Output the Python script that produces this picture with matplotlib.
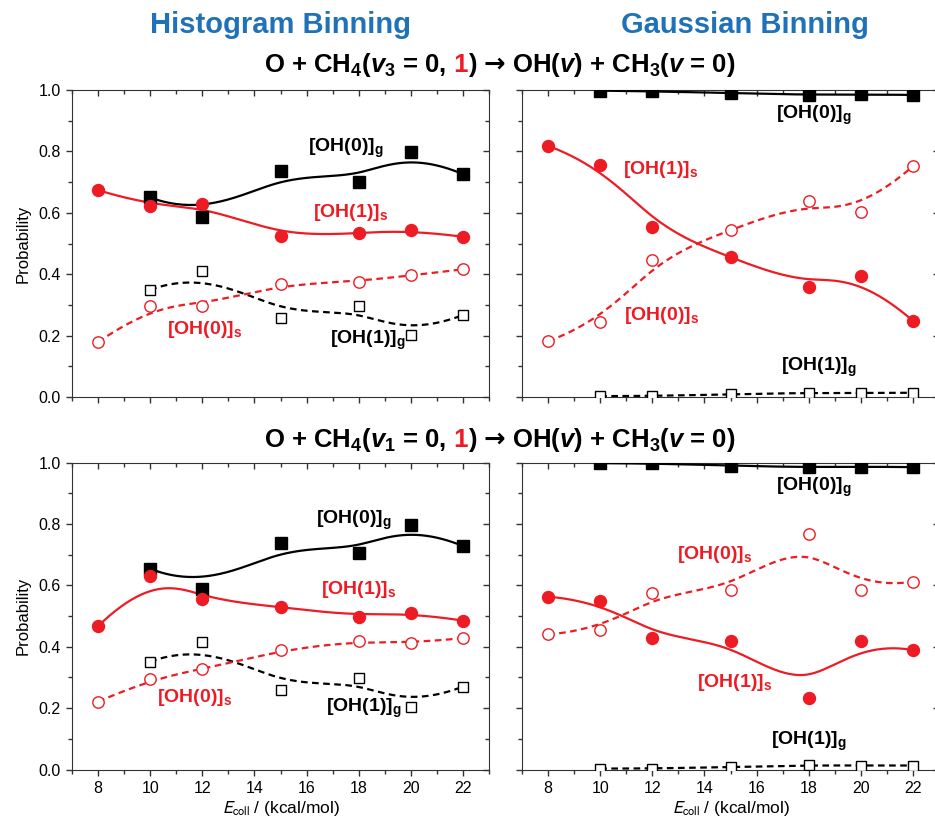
import numpy as np
import matplotlib
matplotlib.use("Agg")
import matplotlib.pyplot as plt
from matplotlib.ticker import MultipleLocator, NullFormatter
from matplotlib.offsetbox import TextArea, HPacker, AnchoredOffsetbox

RED = "#ed1c24"
BLUE = "#1f72b8"
FONT = ["Liberation Sans", "DejaVu Sans"]

plt.rcParams["font.family"] = FONT
plt.rcParams["mathtext.fontset"] = "custom"
plt.rcParams["mathtext.rm"] = "Liberation Sans:bold"
plt.rcParams["mathtext.it"] = "Liberation Sans:italic:bold"
plt.rcParams["mathtext.bf"] = "Liberation Sans:bold"

# collision energies (kcal/mol)
E_s = [8, 10, 12, 15, 18, 20, 22]
E_g = [10, 12, 15, 18, 20, 22]

# histogram binning, v3 = 1
h3_oh0_g = [0.650, 0.587, 0.737, 0.701, 0.798, 0.726]
h3_oh1_g = [0.349, 0.412, 0.256, 0.296, 0.202, 0.267]
h3_oh1_s = [0.674, 0.622, 0.628, 0.524, 0.533, 0.544, 0.522]
h3_oh0_s = [0.179, 0.295, 0.298, 0.367, 0.376, 0.396, 0.416]

# gaussian binning, v3 = 1
g3_oh0_g = [0.998, 0.996, 0.990, 0.984, 0.986, 0.984]
g3_oh1_g = [0.003, 0.003, 0.009, 0.014, 0.012, 0.014]
g3_oh1_s = [0.818, 0.756, 0.555, 0.455, 0.359, 0.395, 0.248]
g3_oh0_s = [0.182, 0.243, 0.446, 0.544, 0.638, 0.604, 0.752]

# histogram binning, v1 = 1
h1_oh0_g = [0.654, 0.587, 0.737, 0.704, 0.797, 0.728]
h1_oh1_g = [0.351, 0.414, 0.259, 0.299, 0.205, 0.270]
h1_oh1_s = [0.467, 0.631, 0.554, 0.530, 0.498, 0.511, 0.485]
h1_oh0_s = [0.221, 0.294, 0.326, 0.388, 0.420, 0.411, 0.428]

# gaussian binning, v1 = 1
g1_oh0_g = [0.998, 0.997, 0.990, 0.984, 0.987, 0.985]
g1_oh1_g = [0.003, 0.003, 0.008, 0.014, 0.013, 0.013]
g1_oh1_s = [0.563, 0.549, 0.428, 0.420, 0.232, 0.419, 0.389]
g1_oh0_s = [0.440, 0.454, 0.574, 0.585, 0.766, 0.585, 0.612]


def bspline(x, y, n=300, k=3):
    # clamped uniform B-spline using the data points as control points
    P = np.column_stack([x, y]).astype(float)
    m = len(P)
    kn = np.r_[np.zeros(k), np.arange(m - k + 1), np.full(k, m - k)].astype(float)
    t = np.linspace(0, m - k, n)
    N = np.zeros((n, len(kn) - 1))
    for i in range(len(kn) - 1):
        N[:, i] = (kn[i] <= t) & (t < kn[i + 1])
    last = np.where(kn[:-1] < kn[1:])[0][-1]
    N[-1, :] = 0
    N[-1, last] = 1
    for d in range(1, k + 1):
        Nn = np.zeros((n, len(kn) - 1 - d))
        for i in range(len(kn) - 1 - d):
            a = kn[i + d] - kn[i]
            b = kn[i + d + 1] - kn[i + 1]
            term = np.zeros(n)
            if a > 0:
                term += (t - kn[i]) / a * N[:, i]
            if b > 0:
                term += (kn[i + d + 1] - t) / b * N[:, i + 1]
            Nn[:, i] = term
        N = Nn
    C = N @ P
    return C[:, 0], C[:, 1]


def set_ticks(owner, axis, name, major, minor, direction, **kw):
    axis.set_major_locator(MultipleLocator(major))
    axis.set_minor_locator(MultipleLocator(minor))
    owner.tick_params(axis=name, which="both", direction=direction,
                      color="#333333", width=1, **kw)
    owner.tick_params(axis=name, which="major", length=4.5)
    owner.tick_params(axis=name, which="minor", length=2.6)


def panel(ax, oh0g, oh1g, oh1s, oh0s, labels, ylab, xlab):
    lw = 1.6
    dash = (0, (3, 2))
    ax.plot(*bspline(E_g, oh0g), color="black", lw=lw, zorder=2)
    ax.plot(*bspline(E_g, oh1g), color="black", lw=lw, ls=dash, zorder=2)
    ax.plot(*bspline(E_s, oh1s), color=RED, lw=lw, zorder=2)
    ax.plot(*bspline(E_s, oh0s), color=RED, lw=lw, ls=dash, zorder=2)
    ax.plot(E_g, oh0g, "s", color="black", ms=8.4, zorder=3)
    ax.plot(E_g, oh1g, "s", mfc="white", mec="black", mew=1, ms=7.6, zorder=3)
    ax.plot(E_s, oh1s, "o", color=RED, ms=8.6, zorder=3)
    ax.plot(E_s, oh0s, "o", mfc="white", mec=RED, mew=1, ms=8.2, zorder=3)

    for txt, sub, col, x, y in labels:
        ax.text(x, y, txt + r"$_\mathrm{" + sub + "}$", color=col, fontsize=14,
                fontweight="bold", ha="center", va="center")

    ax.set_xlim(7, 23)
    ax.set_ylim(0, 1)
    set_ticks(ax, ax.xaxis, "x", 2, 1, "out", top=False, labelsize=11.5)
    set_ticks(ax, ax.yaxis, "y", 0.2, 0.1, "out", right=False, labelsize=11.5)
    for s in ax.spines.values():
        s.set_color("#333333")
    ax.spines["top"].set_visible(False)
    ax.spines["right"].set_visible(False)

    # top and right ticks point inwards
    top = ax.secondary_xaxis("top")
    set_ticks(top, top.xaxis, "x", 2, 1, "in", labeltop=False)
    top.xaxis.set_major_formatter(NullFormatter())
    right = ax.secondary_yaxis("right")
    set_ticks(right, right.yaxis, "y", 0.2, 0.1, "in", labelright=False)
    right.yaxis.set_major_formatter(NullFormatter())
    for sec in (top, right):
        for s in sec.spines.values():
            s.set_color("#333333")

    if ylab:
        ax.set_yticks([0, 0.2, 0.4, 0.6, 0.8, 1.0])
        ax.set_yticklabels(["0.0", "0.2", "0.4", "0.6", "0.8", "1.0"])
        ax.set_ylabel("Probability", fontsize=12)
        ax.yaxis.set_label_coords(-0.10, 0.5)
    else:
        ax.yaxis.set_major_formatter(NullFormatter())
    if xlab:
        ax.set_xlabel(r"$E_\mathrm{coll}$ / (kcal/mol)", fontsize=12.5,
                      math_fontfamily="stixsans")
        ax.xaxis.set_label_coords(0.5, -0.095)
    else:
        ax.xaxis.set_major_formatter(NullFormatter())


def reaction(fig, y, mode):
    props = dict(fontsize=18.5, fontweight="bold", family=FONT, color="black")
    parts = [TextArea(r"O + CH$_4$($v_" + mode + r"$ = 0,", textprops=props),
             TextArea(" 1", textprops={**props, "color": RED}),
             TextArea(") ", textprops=props),
             TextArea("\u2192", textprops={**props, "family": ["DejaVu Sans"]}),
             TextArea(r" OH($v$) + CH$_3$($v$ = 0)", textprops=props)]
    box = HPacker(children=parts, align="baseline", pad=0, sep=0)
    ab = AnchoredOffsetbox(loc="center", child=box, pad=0, borderpad=0, frameon=False,
                           bbox_to_anchor=(0.535, y), bbox_transform=fig.transFigure)
    fig.add_artist(ab)


fig = plt.figure(figsize=(9.35, 8.23), dpi=100)
W, H = 0.446, 0.373
ax_tl = fig.add_axes([0.0770, 0.5176, W, H])
ax_tr = fig.add_axes([0.5583, 0.5176, W, H])
ax_bl = fig.add_axes([0.0770, 0.0650, W, H])
ax_br = fig.add_axes([0.5583, 0.0650, W, H])

panel(ax_tl, h3_oh0_g, h3_oh1_g, h3_oh1_s, h3_oh0_s,
      [("[OH(0)]", "g", "black", 17.5, 0.81), ("[OH(1)]", "s", RED, 17.7, 0.60),
       ("[OH(0)]", "s", RED, 12.1, 0.22), ("[OH(1)]", "g", "black", 18.35, 0.185)],
      True, False)
panel(ax_tr, g3_oh0_g, g3_oh1_g, g3_oh1_s, g3_oh0_s,
      [("[OH(0)]", "g", "black", 18.2, 0.918), ("[OH(1)]", "s", RED, 12.3, 0.74),
       ("[OH(0)]", "s", RED, 12.35, 0.267), ("[OH(1)]", "g", "black", 18.4, 0.098)],
      False, False)
panel(ax_bl, h1_oh0_g, h1_oh1_g, h1_oh1_s, h1_oh0_s,
      [("[OH(0)]", "g", "black", 17.8, 0.813), ("[OH(1)]", "s", RED, 18.0, 0.585),
       ("[OH(0)]", "s", RED, 11.7, 0.233), ("[OH(1)]", "g", "black", 18.2, 0.20)],
      True, True)
panel(ax_br, g1_oh0_g, g1_oh1_g, g1_oh1_s, g1_oh0_s,
      [("[OH(0)]", "g", "black", 18.2, 0.92), ("[OH(0)]", "s", RED, 14.4, 0.70),
       ("[OH(1)]", "s", RED, 15.15, 0.285), ("[OH(1)]", "g", "black", 18.0, 0.09)],
      False, True)

fig.text(0.2995, 0.970, "Histogram Binning", color=BLUE, fontsize=21,
         fontweight="bold", ha="center", va="center")
fig.text(0.797, 0.970, "Gaussian Binning", color=BLUE, fontsize=21,
         fontweight="bold", ha="center", va="center")
reaction(fig, 0.921, "3")
reaction(fig, 0.4654, "1")

fig.savefig("out.png", dpi=100)
